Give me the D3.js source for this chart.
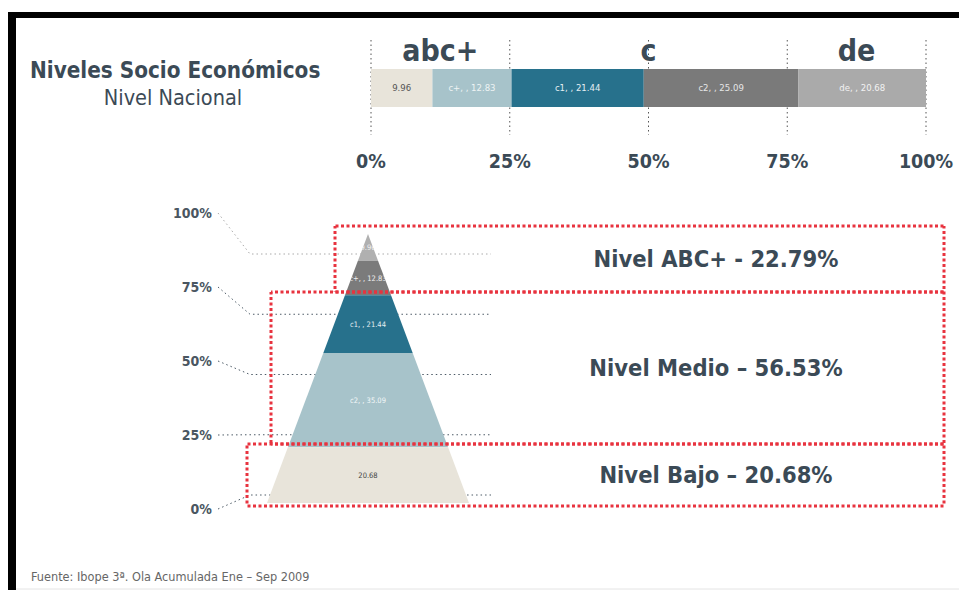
<!DOCTYPE html>
<html>
<head>
<meta charset="utf-8">
<script src="https://cdn.jsdelivr.net/npm/d3@7"></script>
<style>
  html, body { margin: 0; padding: 0; background: #fff; }
  svg { display: block; font-family: Tahoma, "DejaVu Sans Condensed", "DejaVu Sans", sans-serif; }
</style>
</head>
<body>
<div id="chart"></div>
<script>
// top stacked bar
const barLabels = ["9.96", "c+, , 12.83", "c1, , 21.44", "c2, , 25.09", "de, , 20.68"];
const barValues = [9.96, 12.83, 21.44, 25.09, 20.68];
const axisTicks = [0, 25, 50, 75, 100];
const groupNames = ["abc+", "c", "de"];
const groupStart = [0, 25, 75];
const groupEnd = [25, 75, 100];

// pyramid, top to bottom
const pyrLabels = ["9.96", "c+, , 12.83", "c1, , 21.44", "c2, , 35.09", "20.68"];
const pyrValues = [9.96, 12.83, 21.44, 35.09, 20.68];
const levelNames = ["Nivel ABC+", "Nivel Medio", "Nivel Bajo"];
const levelDash = [" - ", " \u2013 ", " \u2013 "];
const levelLayers = [[0, 1], [2, 3], [4]];

const sourceText = "Fuente: Ibope 3\u00aa. Ola Acumulada Ene \u2013 Sep 2009";

const width = 959;
const height = 590;
const textColor = "#3b4a56";

const barColors = ["#e8e4da", "#a7c3ca", "#27718c", "#7a7a7a", "#aaaaaa"];
const barText = ["#555", "#eef3f4", "#e4eef2", "#e6e6e6", "#f2f2f2"];
const pyrColors = ["#b0b0b0", "#7b7b7b", "#27718c", "#a7c3ca", "#e8e4da"];
const pyrText = ["#f4f4f4", "#f0f0f0", "#e4eef2", "#f4f8f9", "#444"];

const svg = d3.select("#chart")
    .append("svg")
    .attr("width", width)
    .attr("height", height);

// frame
svg.append("rect").attr("x", 8).attr("y", 12).attr("width", width - 8).attr("height", 6).attr("fill", "#000");
svg.append("rect").attr("x", 8).attr("y", 12).attr("width", 8).attr("height", height - 12).attr("fill", "#000");
svg.append("line").attr("x1", 16).attr("x2", width).attr("y1", 589).attr("y2", 589)
    .attr("stroke", "#e4e4e4").attr("stroke-width", 1);

// title
svg.append("text")
    .attr("x", 30).attr("y", 78)
    .attr("fill", textColor)
    .style("font-size", "22.3px").style("font-weight", "bold")
    .text("Niveles Socio Econ\u00f3micos");
svg.append("text")
    .attr("x", 173).attr("y", 105)
    .attr("text-anchor", "middle")
    .attr("fill", textColor)
    .style("font-size", "21.5px")
    .text("Nivel Nacional");

// ---------- top stacked bar ----------
const barTop = 69, barH = 38;
const total = d3.sum(barValues);
const x = d3.scaleLinear().domain([0, total]).range([371, 926]);
const xPct = d3.scaleLinear().domain([0, 100]).range([371, 926]);
const cum = d3.cumsum(barValues);

// dotted guide lines
svg.append("g").selectAll("line")
    .data(axisTicks)
    .enter()
    .append("line")
    .attr("x1", d => xPct(d)).attr("x2", d => xPct(d))
    .attr("y1", 40).attr("y2", 135)
    .attr("stroke", "#555")
    .attr("stroke-width", 1)
    .attr("stroke-dasharray", "1.5,3");

svg.append("g").selectAll("rect")
    .data(barValues)
    .enter()
    .append("rect")
    .attr("x", (d, i) => x(cum[i] - d))
    .attr("width", d => x(d) - x(0))
    .attr("y", barTop)
    .attr("height", barH)
    .attr("fill", (d, i) => barColors[i]);

svg.append("g").selectAll("text")
    .data(barValues)
    .enter()
    .append("text")
    .attr("x", (d, i) => x(cum[i] - d / 2))
    .attr("y", barTop + barH / 2 + 3)
    .attr("text-anchor", "middle")
    .attr("fill", (d, i) => barText[i])
    .style("font-size", "9.5px")
    .text((d, i) => barLabels[i]);

// percent axis labels
svg.append("g").selectAll("text")
    .data(axisTicks)
    .enter()
    .append("text")
    .attr("x", d => xPct(d))
    .attr("y", 168)
    .attr("text-anchor", "middle")
    .attr("fill", textColor)
    .style("font-size", "19.5px").style("font-weight", "bold")
    .text(d => d + "%");

// group labels
svg.append("g").selectAll("text")
    .data(groupNames)
    .enter()
    .append("text")
    .attr("x", (d, i) => xPct((groupStart[i] + groupEnd[i]) / 2))
    .attr("y", 61)
    .attr("text-anchor", "middle")
    .attr("fill", textColor)
    .style("font-size", "30px").style("font-weight", "bold")
    .text(d => d);

// ---------- pyramid ----------
const cx = 368, halfBase = 101;
const yP = d3.scaleLinear().domain([0, 100]).range([234, 503]);
const halfW = v => halfBase * v / 100;
const pyrCum = d3.cumsum(pyrValues);
const yLab = d3.scaleLinear().domain([0, 100]).range([509, 213]);
const yLine = d3.scaleLinear().domain([0, 100]).range([495, 254]);

// connectors from the % labels, drawn under the pyramid
const conn = svg.append("g");
conn.selectAll("path")
    .data(axisTicks)
    .enter()
    .append("path")
    .attr("d", d => `M218,${yLab(d)}L250,${yLine(d)}L491,${yLine(d)}`)
    .attr("fill", "none")
    .attr("stroke", d => d === 100 ? "#aaa" : "#4c5a66")
    .attr("stroke-width", 1)
    .attr("stroke-dasharray", "1.5,3");

conn.selectAll("text")
    .data(axisTicks)
    .enter()
    .append("text")
    .attr("x", 212)
    .attr("y", d => yLab(d) + 5)
    .attr("text-anchor", "end")
    .attr("fill", "#4a5661")
    .style("font-size", "14px").style("font-weight", "bold")
    .text(d => d + "%");

const layerPoly = (d, i) => {
    const v0 = pyrCum[i] - d, v1 = pyrCum[i];
    return [
        [cx - halfW(v0), yP(v0)], [cx + halfW(v0), yP(v0)],
        [cx + halfW(v1), yP(v1)], [cx - halfW(v1), yP(v1)]
    ];
};

const defs = svg.append("defs");
defs.selectAll("clipPath")
    .data(pyrValues)
    .enter()
    .append("clipPath")
    .attr("id", (d, i) => "layer" + i)
    .append("polygon")
    .attr("points", (d, i) => layerPoly(d, i).join(" "));

const pyr = svg.append("g");
pyr.selectAll("polygon")
    .data(pyrValues)
    .enter()
    .append("polygon")
    .attr("points", (d, i) => layerPoly(d, i).join(" "))
    .attr("fill", (d, i) => pyrColors[i]);

pyr.selectAll("text")
    .data(pyrValues)
    .enter()
    .append("text")
    .attr("clip-path", (d, i) => `url(#layer${i})`)
    .attr("x", cx)
    .attr("y", (d, i) => yP(pyrCum[i] - d / 2) + 3)
    .attr("text-anchor", "middle")
    .attr("fill", (d, i) => pyrText[i])
    .style("font-size", "7.5px")
    .text((d, i) => pyrLabels[i]);

// ---------- level boxes ----------
const boxRight = 944;
const boxPad = [10, 17, 20];
const boxes = levelLayers.map((layers, k) => {
    const first = layers[0], last = layers[layers.length - 1];
    const v0 = pyrCum[first] - pyrValues[first];
    const v1 = pyrCum[last];
    return {
        name: levelNames[k] + levelDash[k] + d3.sum(layers, j => pyrValues[j]).toFixed(2) + "%",
        top: Math.round(k === 0 ? yP(v0) - 8 : yP(v0) - 3),
        bottom: Math.round(k === levelLayers.length - 1 ? yP(v1) + 3 : yP(v1) - 3),
        left: Math.round(cx - halfW(v1) - boxPad[k])
    };
});

// each box edge is its own line, dash phase tied to absolute coords so shared edges line up
const edges = [];
boxes.forEach(b => {
    edges.push({ x1: b.left, y1: b.top, x2: boxRight, y2: b.top });
    edges.push({ x1: b.left, y1: b.bottom, x2: boxRight, y2: b.bottom });
    edges.push({ x1: b.left, y1: b.top, x2: b.left, y2: b.bottom });
    edges.push({ x1: boxRight, y1: b.top, x2: boxRight, y2: b.bottom });
});

const boxG = svg.append("g");
boxG.selectAll("line")
    .data(edges)
    .enter()
    .append("line")
    .attr("x1", d => d.x1).attr("y1", d => d.y1)
    .attr("x2", d => d.x2).attr("y2", d => d.y2)
    .attr("stroke", "#e8333f")
    .attr("stroke-width", 3)
    .attr("stroke-dasharray", "3,2.5")
    .attr("stroke-dashoffset", d => (d.y1 === d.y2 ? d.x1 : d.y1) % 5.5);

boxG.selectAll("text")
    .data(boxes)
    .enter()
    .append("text")
    .attr("x", 716)
    .attr("y", d => (d.top + d.bottom) / 2 + 8)
    .attr("text-anchor", "middle")
    .attr("fill", textColor)
    .style("font-size", "23.5px").style("font-weight", "bold")
    .text(d => d.name);

// source
svg.append("text")
    .attr("x", 31).attr("y", 581)
    .attr("fill", "#666")
    .style("font-size", "12.6px")
    .text(sourceText);
</script>
</body>
</html>
